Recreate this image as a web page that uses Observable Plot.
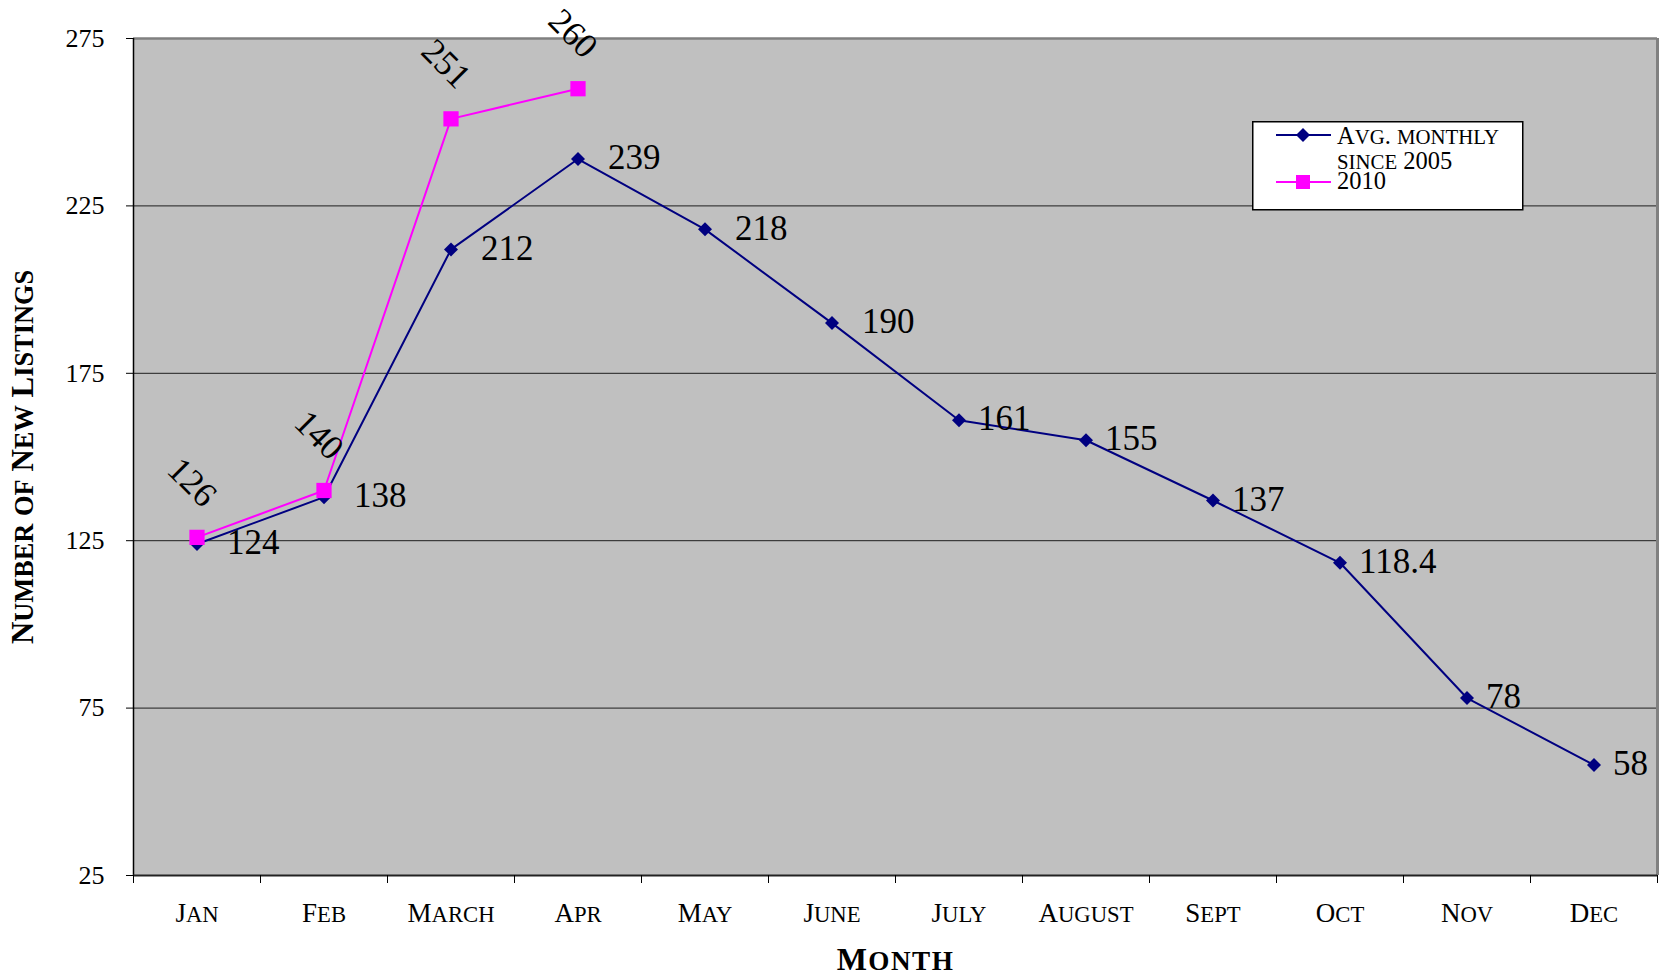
<!DOCTYPE html>
<html><head><meta charset="utf-8">
<script src="https://cdn.jsdelivr.net/npm/d3@7"></script>
<script src="https://cdn.jsdelivr.net/npm/@observablehq/plot@0.6"></script>
<style>
body{margin:0;background:#fff;}
#wrap{position:relative;width:1663px;height:979px;overflow:hidden;}
#wrap svg{display:block;}
#legend{position:absolute;left:1252px;top:121px;}
</style></head><body><div id="wrap"></div>
<script>
const months = ["Jan","Feb","March","Apr","May","June","July","August","Sept","Oct","Nov","Dec"];
const avgMonthly = [124,138,212,239,218,190,161,155,137,118.4,78,58];
const listings2010 = [126,140,251,260];
const yTicks = [25,75,125,175,225,275];
const gridValues = [75,125,175,225];
const seriesNames = ["Avg. monthly", "since 2005", "2010"];
const xTitle = "Month";
const yTitle = "Number of New Listings";

const NAVY = "#000080", MAGENTA = "#ff00ff";
const FONT = "'Liberation Serif', 'Times New Roman', serif";
const avgData = avgMonthly.map((v,i)=>({i, x:i+0.5, v, label: String(v)}));
const data2010 = listings2010.map((v,i)=>({i, x:i+0.5, v, label: String(v)}));

const plot = Plot.plot({
  width:1663, height:979,
  marginLeft:133, marginRight:6, marginTop:38, marginBottom:104,
  style:{fontFamily:FONT, background:"transparent", color:"#000"},
  x:{domain:[0,12]},
  y:{domain:[25,275]},
  marks:[
    Plot.frame({fill:"#c0c0c0"}),
    Plot.ruleY(gridValues, {stroke:"#000", strokeWidth:1, strokeOpacity:0.85}),
    Plot.ruleY([275], {stroke:"#808080", strokeWidth:2.5}),
    Plot.ruleX([12], {stroke:"#808080", strokeWidth:3}),
    Plot.axisY({ticks:yTicks, tickSize:7, tickPadding:22, fontSize:26, label:null, stroke:"#000"}),
    Plot.ruleX([0], {stroke:"#000", strokeWidth:1.5}),
    Plot.ruleY([25], {stroke:"#222", strokeWidth:2}),
    Plot.axisX({ticks:d3.range(13), tickSize:8, tickFormat:()=>"", label:null}),
    Plot.axisX({ticks:months.map((_,i)=>i+0.5), tickSize:0, tickPadding:27, fontSize:27,
      tickFormat:(d)=>months[Math.floor(d)], label:null, className:"scx"}),
    Plot.text([xTitle], {frameAnchor:"bottom", dy:94, fontSize:32, fontWeight:"bold", className:"sctitle"}),
    Plot.text([yTitle], {frameAnchor:"left", textAnchor:"middle", dx:-110, rotate:-90, fontSize:31, fontWeight:"bold", className:"sctitle"}),
    Plot.line(avgData, {x:"x", y:"v", stroke:NAVY, strokeWidth:2}),
    Plot.dot(avgData, {x:"x", y:"v", symbol:"diamond2", r:6.3, fill:NAVY, stroke:"none"}),
    Plot.text(avgData.filter(d=>d.i<6), {x:"x", y:"v", text:"label", textAnchor:"start", dx:30, dy:-1, fontSize:35}),
    Plot.text(avgData.filter(d=>d.i>=6), {x:"x", y:"v", text:"label", textAnchor:"start", dx:19, dy:-1, fontSize:35}),
    Plot.line(data2010, {x:"x", y:"v", stroke:MAGENTA, strokeWidth:2}),
    Plot.dot(data2010, {x:"x", y:"v", symbol:"square", r:8.6, fill:MAGENTA, stroke:"none"}),
    Plot.text(data2010, {x:"x", y:"v", text:"label", rotate:45, dx:-5, dy:-55, fontSize:35})
  ]
});
const wrap = document.getElementById("wrap");
wrap.appendChild(plot);

// emulate a titling small-caps face: capitals full size, lowercase as reduced capitals
function smallCaps(el, ratio) {
  const s = el.textContent;
  el.textContent = "";
  let runs = [];
  for (const c of s) {
    const lower = c !== c.toUpperCase();
    if (runs.length && runs[runs.length-1].lower === lower) runs[runs.length-1].t += c;
    else runs.push({lower, t:c});
  }
  for (const r of runs) {
    const ts = document.createElementNS("http://www.w3.org/2000/svg","tspan");
    ts.textContent = r.t.toUpperCase();
    if (r.lower) ts.setAttribute("font-size", (ratio*100)+"%");
    el.appendChild(ts);
  }
}
plot.querySelectorAll(".scx text").forEach(el=>smallCaps(el, 0.84));
plot.querySelectorAll(".sctitle text").forEach(el=>{ smallCaps(el, 0.85); });
plot.querySelectorAll(".sctitle text").forEach((el,i)=>{ if (i===0) el.setAttribute("letter-spacing","1.5"); });

// legend
const lg = d3.select(wrap).append("svg").attr("id","legend").attr("width",272).attr("height",90)
  .style("font-family",FONT);
lg.append("rect").attr("x",0.75).attr("y",0.75).attr("width",270).attr("height",88)
  .attr("fill","#fff").attr("stroke","#000").attr("stroke-width",1.5);
lg.append("line").attr("x1",24).attr("x2",79).attr("y1",14).attr("y2",14).attr("stroke",NAVY).attr("stroke-width",2);
lg.append("path").attr("d",d3.symbol(d3.symbolDiamond2, Math.PI*6.3*6.3)()).attr("transform","translate(51,14)").attr("fill",NAVY);
lg.append("line").attr("x1",24).attr("x2",79).attr("y1",61).attr("y2",61).attr("stroke",MAGENTA).attr("stroke-width",2);
lg.append("rect").attr("x",44).attr("y",54).attr("width",14).attr("height",14).attr("fill",MAGENTA);
const t = lg.append("g").attr("font-size",24.5);
t.append("text").attr("x",85).attr("y",23).text(seriesNames[0]);
t.append("text").attr("x",85).attr("y",48).text(seriesNames[1]);
t.append("text").attr("x",85).attr("y",68).text(seriesNames[2]);
t.selectAll("text").each(function(){ smallCaps(this, 0.85); });
</script></body></html>
